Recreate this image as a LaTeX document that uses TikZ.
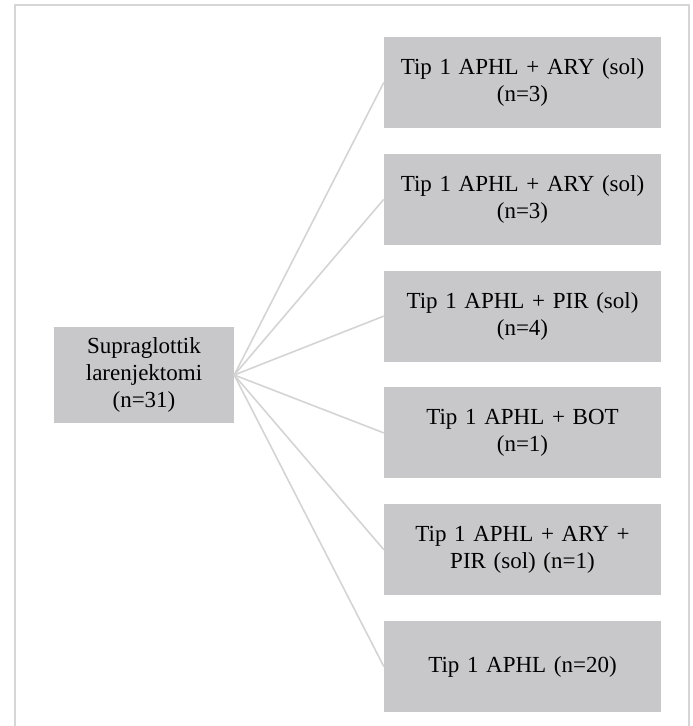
\documentclass[tikz,border=0pt]{standalone}
\usepackage{fontspec}
\setmainfont{Liberation Serif}
\definecolor{boxgray}{RGB}{200,200,202}
\definecolor{linegray}{RGB}{212,212,212}
\definecolor{framegray}{RGB}{214,214,214}
\begin{document}
\begin{tikzpicture}[x=1pt,y=-1pt,
  rbox/.style={fill=boxgray, draw=none, minimum width=277pt, minimum height=91pt,
    text width=270pt, align=center, inner sep=0pt, font=\fontsize{23}{27}\selectfont},
  lbox/.style={fill=boxgray, draw=none, minimum width=180pt, minimum height=96pt,
    text width=175pt, align=center, inner sep=0pt, font=\fontsize{23}{27}\selectfont},
  link/.style={draw=linegray, line width=1.6pt}]
\useasboundingbox (0,0) rectangle (693,726);
\draw[framegray, line width=2.2pt] (15,728) -- (15,5) -- (689,5) -- (689,728);
\node[lbox] (L) at (144,375) {Supraglottik\\larenjektomi\\(n=31)};
\node[rbox] (R1) at (522.5,82.5) {Tip 1 APHL + ARY (sol)\\(n=3)};
\node[rbox] (R2) at (522.5,199.3) {Tip 1 APHL + ARY (sol)\\(n=3)};
\node[rbox] (R3) at (522.5,316.1) {Tip 1 APHL + PIR (sol)\\(n=4)};
\node[rbox] (R4) at (522.5,432.9) {Tip 1 APHL + BOT\\(n=1)};
\node[rbox] (R5) at (522.5,549.7) {Tip 1 APHL + ARY +\\PIR (sol) (n=1)};
\node[rbox] (R6) at (522.5,666.5) {Tip 1 APHL (n=20)};
\foreach \i in {1,...,6} {\draw[link] (L.east) -- (R\i.west);}
\end{tikzpicture}
\end{document}
